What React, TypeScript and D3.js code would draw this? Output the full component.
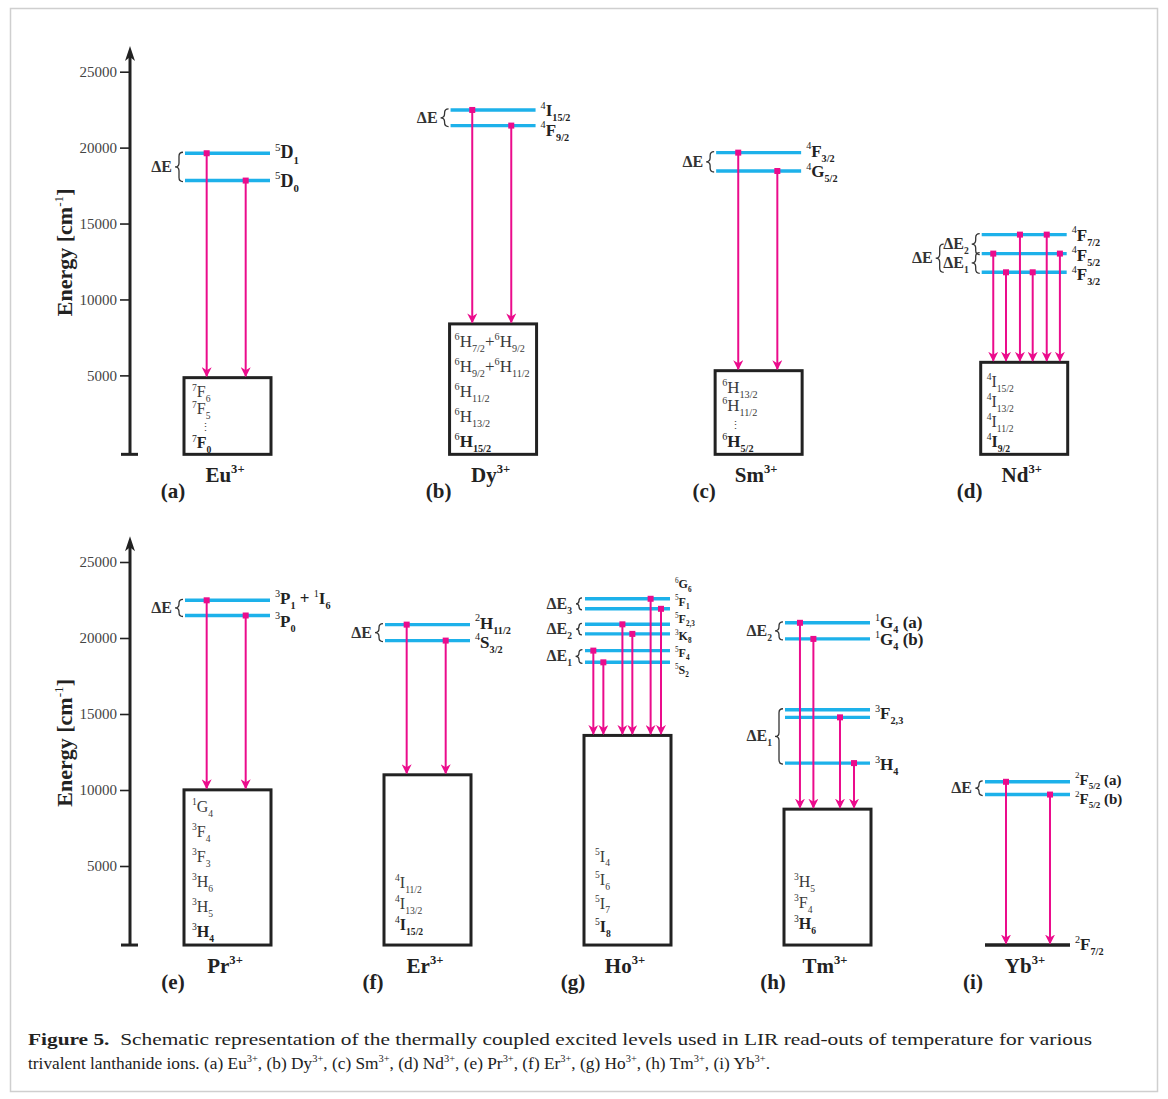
import React, { useRef, useEffect } from 'react'
import * as d3 from 'd3'

// ---------- data (energies in cm-1) ----------
const tickValues = [5000, 10000, 15000, 20000, 25000]
const floorEnergy = -200
const axisTopEnergy = 26700
const axisLabelEnergy = 13100

const topIons = ['Eu', 'Dy', 'Sm', 'Nd']
const bottomIons = ['Pr', 'Er', 'Ho', 'Tm', 'Yb']
const panelLetters = ['(a)', '(b)', '(c)', '(d)', '(e)', '(f)', '(g)', '(h)', '(i)']

// levels: [term, energy]; arrows: [from level index, position along level 0..1]
const euLevels = [['^5D_1', 19630], ['^5D_0', 17830]]
const euArrows = [[0, 0.255], [1, 0.714]]
const euGround = ['^7F_6', '^7F_5', '⋮', '^7F_0']
const euGaps = [['ΔE', 0, 1, 0]]

const dyLevels = [['^4I_15/2', 22480], ['^4F_9/2', 21450]]
const dyArrows = [[0, 0.255], [1, 0.714]]
const dyGround = ['^6H_7/2+^6H_9/2', '^6H_9/2+^6H_11/2', '^6H_11/2', '^6H_13/2', '^6H_15/2']
const dyGaps = [['ΔE', 0, 1, 0]]

const smLevels = [['^4F_3/2', 19670], ['^4G_5/2', 18460]]
const smArrows = [[0, 0.26], [1, 0.72]]
const smGround = ['^6H_13/2', '^6H_11/2', '⋮', '^6H_5/2']
const smGaps = [['ΔE', 0, 1, 0]]

const ndLevels = [['^4F_7/2', 14270], ['^4F_5/2', 13020], ['^4F_3/2', 11790]]
const ndArrows = [[1, 0.136], [2, 0.286], [0, 0.45], [2, 0.6], [0, 0.765], [1, 0.92]]
const ndGround = ['^4I_15/2', '^4I_13/2', '^4I_11/2', '^4I_9/2']
const ndGaps = [['ΔE_2', 0, 1, 0], ['ΔE_1', 1, 2, 0], ['ΔE', 0, 2, 1]]

const prLevels = [['^3P_1 + ^1I_6', 22480], ['^3P_0', 21480]]
const prArrows = [[0, 0.255], [1, 0.714]]
const prGround = ['^1G_4', '^3F_4', '^3F_3', '^3H_6', '^3H_5', '^3H_4']
const prGaps = [['ΔE', 0, 1, 0]]

const erLevels = [['^2H_11/2', 20880], ['^4S_3/2', 19830]]
const erArrows = [[0, 0.255], [1, 0.714]]
const erGround = ['^4I_11/2', '^4I_13/2', '^4I_15/2']
const erGaps = [['ΔE', 0, 1, 0]]

const hoLevels = [['^6G_6', 22580], ['^5F_1', 21920], ['^5F_2,3', 20900], ['^3K_8', 20270], ['^5F_4', 19170], ['^5S_2', 18400]]
const hoArrows = [[4, 0.098], [5, 0.216], [2, 0.44], [3, 0.557], [0, 0.772], [1, 0.894]]
const hoGround = ['^5I_4', '^5I_6', '^5I_7', '^5I_8']
const hoGaps = [['ΔE_3', 0, 1, 0], ['ΔE_2', 2, 3, 0], ['ΔE_1', 4, 5, 0]]

const tmLevels = [['^1G_4 (a)', 21000], ['^1G_4 (b)', 19940], ['^3F_2,3', 15280], ['', 14780], ['^3H_4', 11770]]
const tmArrows = [[0, 0.176], [1, 0.334], [3, 0.647], [4, 0.812]]
const tmGround = ['^3H_5', '^3F_4', '^3H_6']
const tmGaps = [['ΔE_2', 0, 1, 0], ['ΔE_1', 2, 4, 0]]

const ybLevels = [['^2F_5/2 (a)', 10540], ['^2F_5/2 (b)', 9700]]
const ybArrows = [[0, 0.247], [1, 0.765]]
const ybGroundLine = '^2F_7/2'
const ybGaps = [['ΔE', 0, 1, 0]]

const boxTops = { Eu: 4850, Dy: 8390, Sm: 5310, Nd: 5860, Pr: 10010, Er: 11000, Ho: 13590, Tm: 8740, Yb: null }

const ions = {
  Eu: { levels: euLevels, arrows: euArrows, ground: euGround, gaps: euGaps },
  Dy: { levels: dyLevels, arrows: dyArrows, ground: dyGround, gaps: dyGaps },
  Sm: { levels: smLevels, arrows: smArrows, ground: smGround, gaps: smGaps },
  Nd: { levels: ndLevels, arrows: ndArrows, ground: ndGround, gaps: ndGaps },
  Pr: { levels: prLevels, arrows: prArrows, ground: prGround, gaps: prGaps },
  Er: { levels: erLevels, arrows: erArrows, ground: erGround, gaps: erGaps },
  Ho: { levels: hoLevels, arrows: hoArrows, ground: hoGround, gaps: hoGaps },
  Tm: { levels: tmLevels, arrows: tmArrows, ground: tmGround, gaps: tmGaps },
  Yb: { levels: ybLevels, arrows: ybArrows, ground: [], gaps: ybGaps, groundLine: ybGroundLine },
}

// ---------- layout / style ----------
const W = 1168
const H = 1099
const LEVEL_W = 85
const AXIS_X = 130
const BLUE = '#1db1ea'
const PINK = '#eb0c8c'
const FONT = '"Liberation Serif", "Times New Roman", serif'

const rows = [
  { ions: topIons, yZero: 451.3, yTop: 71.7, x: [185, 981.7], letterOffset: 0 },
  { ions: bottomIons, yZero: 942, yTop: 562, x: [185, 985], letterOffset: 4 },
]

// per panel text tweaks: box font, row step, bottom pad, indent, label font, label offsets
const panelStyle = {
  Eu: { bf: 16, step: 17, pad: 6, indent: 7, lf: 18, lab: [0, 1] },
  Dy: { bf: 17, step: 25, pad: 7.5, indent: 4, lf: 17, lab: [1, 5] },
  Sm: { bf: 17, step: 18, pad: 7.5, indent: 6, lf: 17, lab: [-1, 1] },
  Nd: { bf: 16, step: 20, pad: 7.5, indent: 5, lf: 17, lab: [1, 2, 3] },
  Pr: { bf: 16, step: 25, pad: 8, indent: 7, lf: 17, lab: [-1, 6] },
  Er: { bf: 16, step: 21, pad: 15, indent: 10, lf: 17, lab: [-1, 2] },
  Ho: { bf: 16, step: 23.5, pad: 13, indent: 10, lf: 12, lab: [-15.3, -8.3, -6.7, 0.7, 1, 6.3] },
  Tm: { bf: 16, step: 21, pad: 16, indent: 9, lf: 17, lab: [0, 1, 4, 0, 2] },
  Yb: { bf: 17, step: 21, pad: 10, indent: 9, lf: 15, lab: [-2, 4] },
}

// ---------- helpers ----------
function parseTerm(s) {
  const re = /\^([0-9+\-]+)|_([0-9\/,]+)|([^\^_]+)/g
  const out = []
  let m
  while ((m = re.exec(s))) {
    if (m[1] !== undefined) out.push({ t: m[1], k: 'sup' })
    else if (m[2] !== undefined) out.push({ t: m[2], k: 'sub' })
    else out.push({ t: m[3], k: 'n' })
  }
  return out
}

function termSpans(s, size, supWeight = 'normal') {
  let shift = 0
  return parseTerm(s).map((p, i) => {
    const target = p.k === 'sup' ? -0.42 * size : p.k === 'sub' ? 0.3 * size : 0
    const dy = target - shift
    shift = target
    return (
      <tspan key={i} dy={dy} fontSize={p.k === 'n' ? size : size * 0.6}
        fontWeight={p.k === 'sup' ? supWeight : undefined}>
        {p.t}
      </tspan>
    )
  })
}

function bracePath(x, y1, y2) {
  const w = Math.min(4, (y2 - y1) / 4)
  const ym = (y1 + y2) / 2
  return `M${x + w},${y1} Q${x},${y1} ${x},${y1 + w} L${x},${ym - w} Q${x},${ym} ${x - w},${ym}` +
    ` Q${x},${ym} ${x},${ym + w} L${x},${y2 - w} Q${x},${y2} ${x + w},${y2}`
}

function Axis({ y }) {
  const ref = useRef(null)
  useEffect(() => {
    const g = d3.select(ref.current)
    g.selectAll('*').remove()
    g.call(d3.axisLeft(y).tickValues(tickValues).tickSize(10).tickPadding(3).tickFormat(d3.format('d')))
    g.attr('font-family', FONT).attr('font-size', 15)
    g.select('.domain').remove()
    g.selectAll('.tick line').attr('stroke', '#222').attr('stroke-width', 1.6)
    g.selectAll('.tick text').attr('fill', '#444')
  }, [y])
  const yT = y(axisTopEnergy)
  const yF = y(floorEnergy)
  return (
    <g>
      <g ref={ref} transform={`translate(${AXIS_X},0)`} />
      <line x1={AXIS_X} x2={AXIS_X} y1={yT + 6} y2={yF} stroke="#222" strokeWidth={3} />
      <path d={`M${AXIS_X},${yT} L${AXIS_X - 5},${yT + 15} L${AXIS_X},${yT + 11} L${AXIS_X + 5},${yT + 15} Z`} fill="#222" />
      <line x1={AXIS_X - 9} x2={AXIS_X + 8} y1={yF} y2={yF} stroke="#222" strokeWidth={3} />
      <text transform={`translate(72,${y(axisLabelEnergy)}) rotate(-90)`} textAnchor="middle"
        fontFamily={FONT} fontWeight="bold" fontSize={22} fill="#222">
        {termSpans('Energy [cm^-1]', 22)}
      </text>
    </g>
  )
}

function Panel({ name, x0, y, letter }) {
  const ion = ions[name]
  const st = panelStyle[name]
  const xs = d3.scaleLinear().domain([0, 1]).range([x0, x0 + LEVEL_W])
  const lv = ion.levels.map(([term, E]) => ({ term, y: y(E) }))
  const yF = y(floorEnergy)
  const boxTop = boxTops[name]
  const yEnd = boxTop != null ? y(boxTop) : yF
  const n = ion.ground.length
  return (
    <g fontFamily={FONT}>
      {/* ground manifold */}
      {boxTop != null && (
        <rect x={xs(0) - 1} y={y(boxTop)} width={LEVEL_W + 2} height={yF - y(boxTop)}
          fill="white" stroke="#222" strokeWidth={3} />
      )}
      {ion.ground.map((t, i) => {
        const j = n - 1 - i
        const yy = yF - st.pad - j * st.step
        if (t === '⋮')
          return <text key={i} x={xs(0) + st.indent + 8} y={yy} fontSize={11} fill="#444">⋮</text>
        const last = i === n - 1
        return (
          <text key={i} x={xs(0) + st.indent} y={yy} fill={last ? '#222' : '#3a3a3a'}
            fontWeight={last ? 'bold' : 'normal'}>
            {termSpans(t, st.bf)}
          </text>
        )
      })}
      {ion.groundLine && (
        <g>
          <line x1={xs(0)} x2={xs(1)} y1={yF} y2={yF} stroke="#222" strokeWidth={3.5} />
          <text x={xs(1) + 5} y={yF + 5} fontWeight="bold" fill="#222">{termSpans(ion.groundLine, st.bf)}</text>
        </g>
      )}
      {/* excited levels */}
      {lv.map((l, i) => (
        <line key={i} x1={xs(0)} x2={xs(1)} y1={l.y} y2={l.y} stroke={BLUE} strokeWidth={3.4} />
      ))}
      {lv.map((l, i) => l.term && (
        <text key={i} x={xs(1) + 5} y={l.y + 5 + (st.lab[i] || 0)} fontWeight="bold" fill="#222">
          {termSpans(l.term, st.lf)}
        </text>
      ))}
      {/* transitions */}
      {ion.arrows.map(([li, p], i) => (
        <g key={i}>
          <line x1={xs(p)} x2={xs(p)} y1={lv[li].y} y2={yEnd - 1.5} stroke={PINK} strokeWidth={2}
            markerEnd="url(#head)" />
          <rect x={xs(p) - 3} y={lv[li].y - 3} width={6} height={6} fill={PINK} />
        </g>
      ))}
      {/* energy gaps */}
      {ion.gaps.map(([label, a, b, depth], i) => {
        const outer = depth === 1
        const bx = outer ? xs(0) - 42 : xs(0) - 6
        const y1 = outer ? (lv[a].y + lv[a + 1].y) / 2 : lv[a].y - 1
        const y2 = outer ? lv[b].y : lv[b].y + 1
        return (
          <g key={i}>
            <path d={bracePath(bx, y1, y2)} fill="none" stroke="#333" strokeWidth={1.3} />
            <text x={bx - 7} y={(y1 + y2) / 2 + 5} textAnchor="end" fontWeight="bold" fill="#333">
              {termSpans(label, 16)}
            </text>
          </g>
        )
      })}
      {/* ion and panel labels */}
      <text x={xs(0) + 40} y={yF + 27.5} textAnchor="middle" fontWeight="bold" fill="#222">
        {termSpans(`${name}^3+`, 21, 'bold')}
      </text>
      <text x={xs(0) - 12} y={yF + 44} textAnchor="middle" fontWeight="bold" fontSize={21} fill="#222">
        {letter}
      </text>
    </g>
  )
}

export default function App() {
  const captionLine2 = 'trivalent lanthanide ions. (a) Eu^3+, (b) Dy^3+, (c) Sm^3+, (d) Nd^3+, (e) Pr^3+, (f) Er^3+, (g) Ho^3+, (h) Tm^3+, (i) Yb^3+.'
  return (
    <svg width={W} height={H} style={{ position: 'absolute', left: 0, top: 0, background: 'white' }}>
      <defs>
        <marker id="head" viewBox="0 0 10 10" refX="9" refY="5" markerWidth="10" markerHeight="10"
          markerUnits="userSpaceOnUse" orient="auto">
          <path d="M0,0 L10,5 L0,10 L3,5 Z" fill={PINK} />
        </marker>
      </defs>
      <rect x={10.5} y={8.5} width={1147} height={1083} fill="white" stroke="#cfcfcf" strokeWidth={1.5} />
      {rows.map((r, ri) => {
        const y = d3.scaleLinear().domain([0, 25000]).range([r.yZero, r.yTop])
        const px = d3.scalePoint().domain(r.ions).range(r.x)
        return (
          <g key={ri}>
            <Axis y={y} />
            {r.ions.map((name, i) => (
              <Panel key={name} name={name} x0={px(name)} y={y} letter={panelLetters[r.letterOffset + i]} />
            ))}
          </g>
        )
      })}
      <text x={28} y={1045} fontFamily={FONT} fontSize={17} fill="#222" textLength={1064}
        lengthAdjust="spacingAndGlyphs" style={{ whiteSpace: 'pre' }}>
        <tspan fontWeight="bold">Figure 5.</tspan>
        {'  Schematic representation of the thermally coupled excited levels used in LIR read-outs of temperature for various'}
      </text>
      <text x={28} y={1069} fontFamily={FONT} fill="#222" textLength={742} lengthAdjust="spacingAndGlyphs">
        {termSpans(captionLine2, 17)}
      </text>
    </svg>
  )
}
